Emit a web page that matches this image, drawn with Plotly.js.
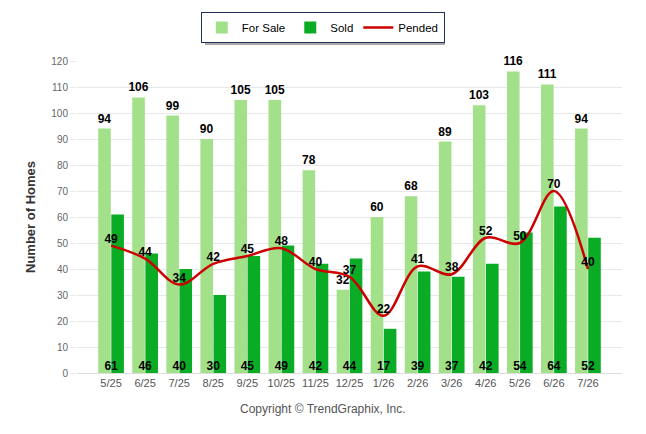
<!DOCTYPE html>
<html>
<head>
<meta charset="utf-8">
<script src="https://cdn.plot.ly/plotly-3.0.1.min.js"></script>
<style>html,body{margin:0;padding:0;background:#fff}#chart{width:646px;height:434px}</style>
</head>
<body>
<div id="chart"></div>
<script>
const months = ["5/25","6/25","7/25","8/25","9/25","10/25","11/25","12/25","1/26","2/26","3/26","4/26","5/26","6/26","7/26"];
const forSale = [94,106,99,90,105,105,78,32,60,68,89,103,116,111,94];
const sold = [61,46,40,30,45,49,42,44,17,39,37,42,54,64,52];
const pended = [49,44,34,42,45,48,40,37,22,41,38,52,50,70,40];
const zeros = months.map(() => 0);

const labelFont = {family: "Liberation Sans, Arial, sans-serif", size: 12, color: "#000", weight: "bold"};

const traces = [
  {type: "bar", name: "For Sale", x: months, y: forSale, marker: {color: "#a2e08a"},
   text: forSale.map(String), textposition: "outside", constraintext: "none", cliponaxis: false,
   textfont: labelFont, hoverinfo: "x+y"},
  {type: "bar", name: "Sold", x: months, y: sold, marker: {color: "#0aab25"},
   textposition: "none", hoverinfo: "x+y"},
  {type: "scatter", name: "Pended", x: months, y: pended, mode: "lines+text",
   line: {color: "#cc0000", width: 2.5, shape: "spline", smoothing: 1},
   text: pended.map(String), textposition: "top center", textfont: labelFont, cliponaxis: false},
  {type: "scatter", x: months, y: zeros, mode: "text", text: sold.map(String),
   textposition: "top center", textfont: labelFont, showlegend: false, hoverinfo: "skip", cliponaxis: false}
];

const layout = {
  width: 646, height: 434,
  margin: {l: 77, r: 24, t: 61, b: 61},
  paper_bgcolor: "#fff", plot_bgcolor: "#fff",
  font: {family: "Liberation Sans, Arial, sans-serif", color: "#555"},
  barmode: "group", bargap: 0.23, bargroupgap: 0.04,
  xaxis: {type: "category", range: [-1, 15], showgrid: false, showline: true, linecolor: "#dcdcdc",
    ticks: "", tickfont: {size: 11, color: "#555"}, fixedrange: true},
  yaxis: {range: [0, 120], dtick: 10, showgrid: true, gridcolor: "#e8e8e8", zeroline: false,
    ticks: "outside", ticklen: 6, tickcolor: "#e8e8e8", tickfont: {size: 10, color: "#666"},
    title: {text: "Number of Homes", font: {size: 13, color: "#333", weight: "bold"}, standoff: 12}},
  showlegend: true,
  legend: {orientation: "h", x: 0.451, xanchor: "center", y: 1.157, yanchor: "top",
    bgcolor: "#fff", bordercolor: "#1f2f5a", borderwidth: 1, font: {size: 11.5, color: "#000"},
    traceorder: "normal", itemwidth: 30},
  shapes: [
    {type: "rect", xref: "paper", yref: "paper", x0: 0.2349, x1: 0.6752, y0: 1.0513, y1: 1.1442,
     fillcolor: "#a8a8a8", line: {width: 0}, layer: "below"}
  ],
  annotations: [
    {text: "Copyright © TrendGraphix, Inc.", xref: "paper", yref: "paper", x: 0.451, xanchor: "center",
     y: -0.114, yanchor: "middle", showarrow: false, font: {size: 12, color: "#555"}}
  ]
};

Plotly.newPlot("chart", traces, layout, {displayModeBar: false, staticPlot: true});
</script>
</body>
</html>
